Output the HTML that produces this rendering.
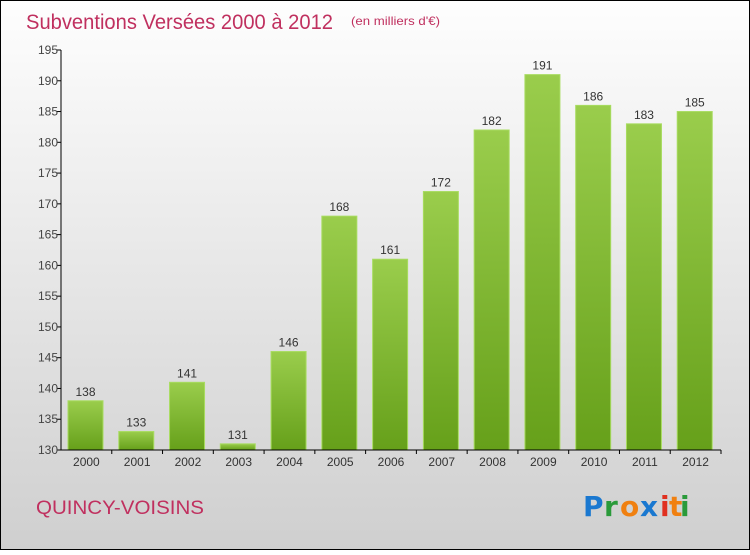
<!DOCTYPE html>
<html><head><meta charset="utf-8"><style>
html,body{margin:0;padding:0}
body{width:750px;height:550px;overflow:hidden;font-family:"Liberation Sans",sans-serif}
</style></head><body>
<svg width="750" height="550" xmlns="http://www.w3.org/2000/svg" id="svg">
<defs>
<linearGradient id="bg" x1="0" y1="0" x2="0" y2="1"><stop offset="0" stop-color="#fefefe"/><stop offset="1" stop-color="#cfcfcf"/></linearGradient>
<linearGradient id="bar" x1="0" y1="0" x2="0" y2="1"><stop offset="0" stop-color="#9acd4c"/><stop offset="1" stop-color="#66a01a"/></linearGradient>
</defs>
<rect x="0.5" y="0.5" width="749" height="549" fill="url(#bg)" stroke="#000"/>
<text x="26" y="29" font-size="21" fill="#c0305f" textLength="307" lengthAdjust="spacingAndGlyphs">Subventions Versées 2000 à 2012</text>
<text x="351" y="25" font-size="12" fill="#c0305f" textLength="89" lengthAdjust="spacingAndGlyphs">(en milliers d'€)</text>
<g id="plot"></g>
<text x="36" y="514" font-size="19" fill="#c0305f" textLength="168" lengthAdjust="spacingAndGlyphs">QUINCY-VOISINS</text>
<g font-size="28" font-weight="bold" font-family="'DejaVu Sans',sans-serif">
<text x="583" y="516" fill="#1a78d0">P</text><text x="604" y="516" fill="#2a9a3a">r</text><text x="620" y="516" fill="#f08010">o</text><text x="640" y="516" fill="#1a78d0">x</text><text x="660" y="516" fill="#e03020">i</text><text x="669" y="516" fill="#f08010">t</text><text x="680" y="516" fill="#2a9a3a">i</text>
</g>
</svg>
<script>
const categories=["2000","2001","2002","2003","2004","2005","2006","2007","2008","2009","2010","2011","2012"];
const values=[138,133,141,131,146,168,161,172,182,191,186,183,185];
const yTicks=[130,135,140,145,150,155,160,165,170,175,180,185,190,195];
const NS="http://www.w3.org/2000/svg";
const g=document.getElementById('plot');
const x0=61,x1=721,yTop=50,yBot=450,yMin=130,yMax=195;
const band=(x1-x0)/categories.length;
const y=v=>yBot-(v-yMin)/(yMax-yMin)*(yBot-yTop);
function mk(t,a){const e=document.createElementNS(NS,t);for(const k in a)e.setAttribute(k,a[k]);g.appendChild(e);return e;}
yTicks.forEach(t=>{
 const l=mk('line',{x1:x0-4,x2:x0,y1:y(t),y2:y(t),stroke:'#000'});
 
 
 const tx=mk('text',{x:x0-3,y:y(t)+4,'font-size':12,fill:'#444','text-anchor':'end'});
 tx.textContent=t;
 
 
});
categories.forEach((c,i)=>{
 const bx=x0+i*band+7,bw=35,top=y(values[i]);
 const r=mk('rect',{x:bx,y:top,width:bw,height:yBot-top,fill:'url(#bar)',stroke:'#a8dc60','stroke-width':1});
 
 
 const v=mk('text',{x:bx+bw/2,y:top-5,'font-size':12,fill:'#333','text-anchor':'middle'});
 v.textContent=values[i];
 
 
 const tk=mk('line',{x1:x0+(i+1)*band,x2:x0+(i+1)*band,y1:yBot,y2:yBot+4,stroke:'#000'});
 
 
 const lb=mk('text',{x:x0+i*band+band/2,y:yBot+16,'font-size':12,fill:'#333','text-anchor':'middle'});
 lb.textContent=c;
 
 
});
const ya=mk('line',{x1:x0,x2:x0,y1:yTop,y2:yBot,stroke:'#000'});


const xa=mk('line',{x1:x0,x2:x1,y1:yBot,y2:yBot,stroke:'#000'});


</script>
</body></html>
